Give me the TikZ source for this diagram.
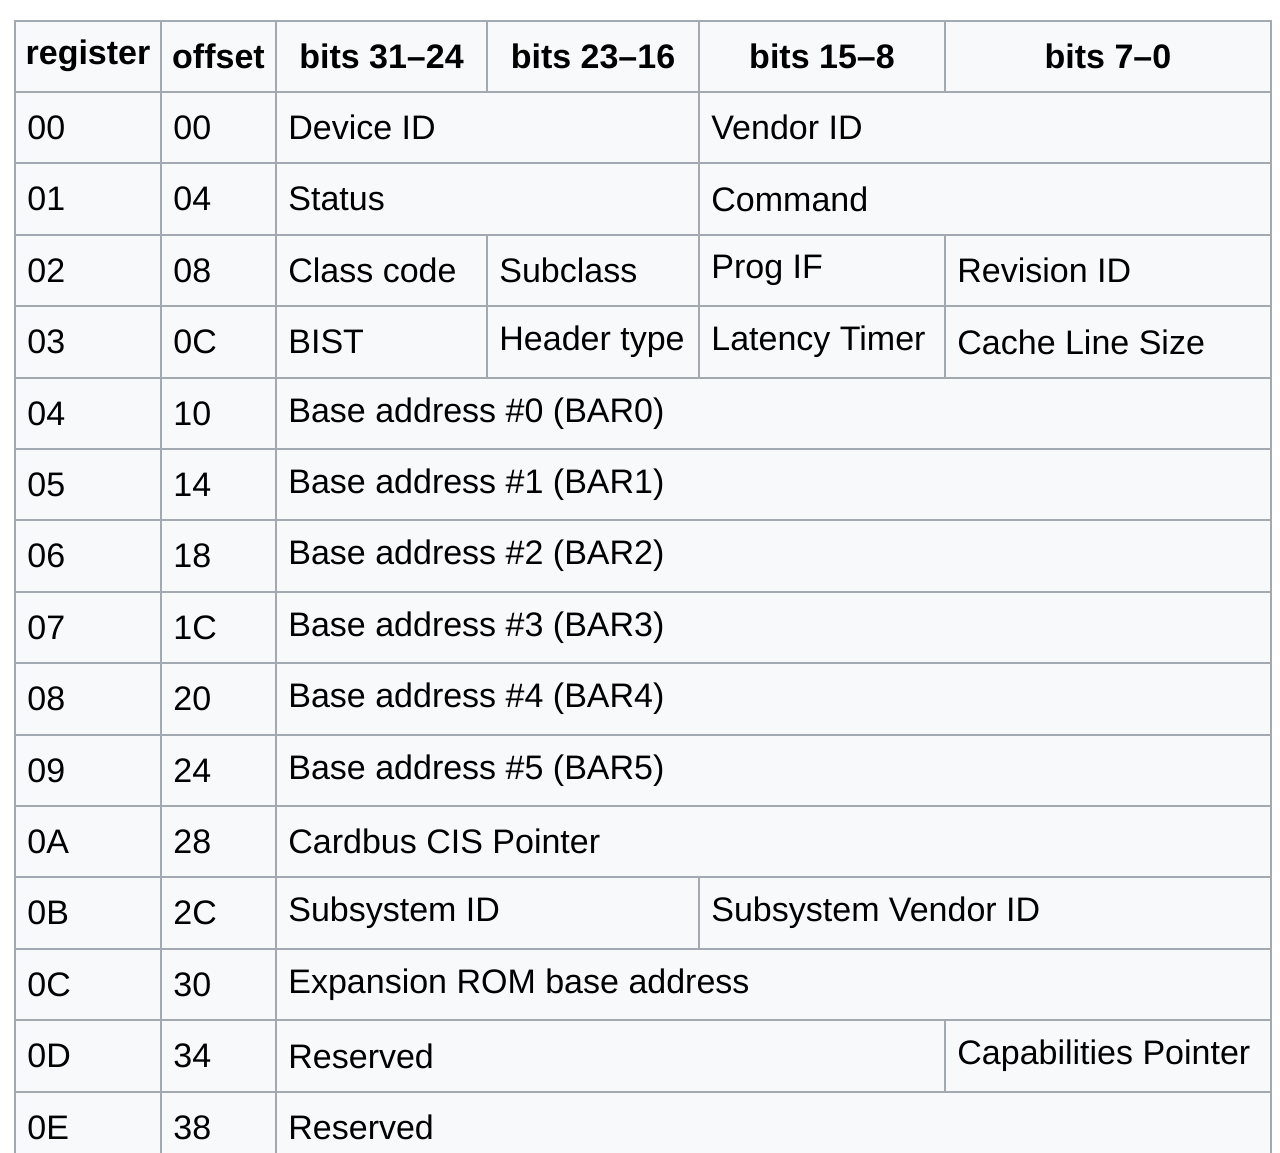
\documentclass[tikz,border=0pt]{standalone}
\usepackage{fontspec}
\setmainfont{Liberation Sans}
\begin{document}
\begin{tikzpicture}[x=0.5pt,y=-0.5pt,
  cellbox/.style={fill=cellbg,draw=gridc,line width=1pt},
  txt/.style={anchor=west,inner sep=0pt,font=\fontsize{17}{20}\selectfont},
  hd/.style={anchor=center,inner sep=0pt,font=\fontsize{17}{20}\selectfont\bfseries}]
\definecolor{cellbg}{HTML}{F8F9FA}
\definecolor{gridc}{HTML}{A2A9B1}
\useasboundingbox (0,0) rectangle (1280,1152);
\begin{scope}
\clip (0,0) rectangle (1280,1152);
\newcommand\cellc[5]{% name x1 x2 row text
  \pgfmathsetmacro\ya{92+71.4*(#4-1)}\pgfmathsetmacro\yb{92+71.4*#4}
  \draw[cellbox] (#2,\ya) rectangle (#3,\yb);
  \node[txt] (#1) at (#2+12,{(\ya+\yb)/2}) {#5};}
\newcommand\hcell[4]{%
  \draw[cellbox] (#2,21) rectangle (#3,92);
  \node[hd] (#1) at ({(#2+#3)/2},56) {#4};}
\hcell{h1}{15}{161}{register}
\hcell{h2}{161}{276}{offset}
\hcell{h3}{276}{487}{bits 31–24}
\hcell{h4}{487}{699}{bits 23–16}
\hcell{h5}{699}{945}{bits 15–8}
\hcell{h6}{945}{1271}{bits 7–0}
\cellc{r1a}{15}{161}{1}{00}\cellc{r1b}{161}{276}{1}{00}
\cellc{r1c}{276}{699}{1}{Device ID}\cellc{r1d}{699}{1271}{1}{Vendor ID}
\cellc{r2a}{15}{161}{2}{01}\cellc{r2b}{161}{276}{2}{04}
\cellc{r2c}{276}{699}{2}{Status}\cellc{r2d}{699}{1271}{2}{Command}
\cellc{r3a}{15}{161}{3}{02}\cellc{r3b}{161}{276}{3}{08}
\cellc{r3c}{276}{487}{3}{Class code}\cellc{r3d}{487}{699}{3}{Subclass}
\cellc{r3e}{699}{945}{3}{Prog IF}\cellc{r3f}{945}{1271}{3}{Revision ID}
\cellc{r4a}{15}{161}{4}{03}\cellc{r4b}{161}{276}{4}{0C}
\cellc{r4c}{276}{487}{4}{BIST}\cellc{r4d}{487}{699}{4}{Header type}
\cellc{r4e}{699}{945}{4}{Latency Timer}\cellc{r4f}{945}{1271}{4}{Cache Line Size}
\cellc{r5a}{15}{161}{5}{04}\cellc{r5b}{161}{276}{5}{10}\cellc{r5c}{276}{1271}{5}{Base address \#0 (BAR0)}
\cellc{r6a}{15}{161}{6}{05}\cellc{r6b}{161}{276}{6}{14}\cellc{r6c}{276}{1271}{6}{Base address \#1 (BAR1)}
\cellc{r7a}{15}{161}{7}{06}\cellc{r7b}{161}{276}{7}{18}\cellc{r7c}{276}{1271}{7}{Base address \#2 (BAR2)}
\cellc{r8a}{15}{161}{8}{07}\cellc{r8b}{161}{276}{8}{1C}\cellc{r8c}{276}{1271}{8}{Base address \#3 (BAR3)}
\cellc{r9a}{15}{161}{9}{08}\cellc{r9b}{161}{276}{9}{20}\cellc{r9c}{276}{1271}{9}{Base address \#4 (BAR4)}
\cellc{r10a}{15}{161}{10}{09}\cellc{r10b}{161}{276}{10}{24}\cellc{r10c}{276}{1271}{10}{Base address \#5 (BAR5)}
\cellc{r11a}{15}{161}{11}{0A}\cellc{r11b}{161}{276}{11}{28}\cellc{r11c}{276}{1271}{11}{Cardbus CIS Pointer}
\cellc{r12a}{15}{161}{12}{0B}\cellc{r12b}{161}{276}{12}{2C}
\cellc{r12c}{276}{699}{12}{Subsystem ID}\cellc{r12d}{699}{1271}{12}{Subsystem Vendor ID}
\cellc{r13a}{15}{161}{13}{0C}\cellc{r13b}{161}{276}{13}{30}\cellc{r13c}{276}{1271}{13}{Expansion ROM base address}
\cellc{r14a}{15}{161}{14}{0D}\cellc{r14b}{161}{276}{14}{34}
\cellc{r14c}{276}{945}{14}{Reserved}\cellc{r14d}{945}{1271}{14}{Capabilities Pointer}
\cellc{r15a}{15}{161}{15}{0E}\cellc{r15b}{161}{276}{15}{38}\cellc{r15c}{276}{1271}{15}{Reserved}
\end{scope}
\end{tikzpicture}
\end{document}
